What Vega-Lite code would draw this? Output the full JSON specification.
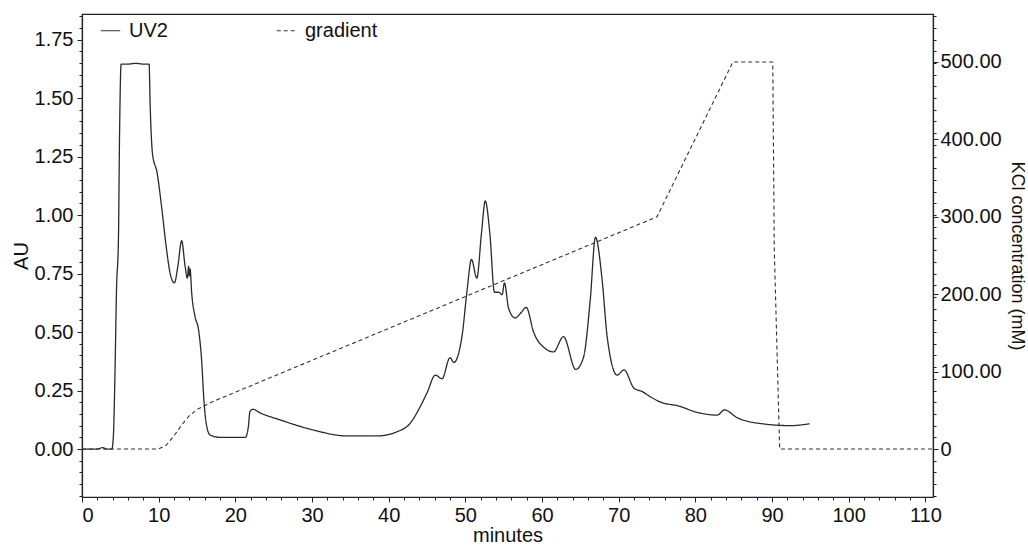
{
  "$schema": "https://vega.github.io/schema/vega-lite/v6.json",
  "width": 851,
  "height": 483,
  "autosize": {"type": "none"},
  "padding": {"left": 82, "top": 14, "right": 95, "bottom": 48},
  "config": {
    "font": "Liberation Sans",
    "view": {"stroke": "#222", "strokeWidth": 1.2},
    "axis": {"grid": false, "domainColor": "#222", "tickColor": "#222", "labelColor": "#111", "titleColor": "#111", "labelFont": "Liberation Sans", "titleFont": "Liberation Sans", "labelFontSize": 20, "titleFontSize": 20, "titleFontWeight": "normal", "domainWidth": 1.2, "tickWidth": 1}
  },
  "datasets": {
    "uv": [
      {"t": 0, "au": 0.0, "series": "UV2"}, {"t": 1, "au": 0.0, "series": "UV2"}, {"t": 2, "au": 0.0, "series": "UV2"},
      {"t": 2.7, "au": 0.006, "series": "UV2"}, {"t": 3.2, "au": 0.0, "series": "UV2"}, {"t": 3.9, "au": 0.0, "series": "UV2"},
      {"t": 4.1, "au": 0.06, "series": "UV2"}, {"t": 4.3, "au": 0.32, "series": "UV2"}, {"t": 4.5, "au": 0.68, "series": "UV2"},
      {"t": 4.75, "au": 0.89, "series": "UV2"}, {"t": 4.9, "au": 1.35, "series": "UV2"}, {"t": 5.1, "au": 1.645, "series": "UV2"},
      {"t": 6, "au": 1.645, "series": "UV2"}, {"t": 7, "au": 1.648, "series": "UV2"}, {"t": 8, "au": 1.645, "series": "UV2"},
      {"t": 8.75, "au": 1.645, "series": "UV2"}, {"t": 8.9, "au": 1.46, "series": "UV2"}, {"t": 9.2, "au": 1.26, "series": "UV2"},
      {"t": 9.8, "au": 1.18, "series": "UV2"}, {"t": 10.4, "au": 1.03, "series": "UV2"}, {"t": 11.0, "au": 0.86, "series": "UV2"},
      {"t": 11.5, "au": 0.75, "series": "UV2"}, {"t": 12.05, "au": 0.71, "series": "UV2"}, {"t": 12.5, "au": 0.78, "series": "UV2"},
      {"t": 13.0, "au": 0.89, "series": "UV2"}, {"t": 13.45, "au": 0.78, "series": "UV2"}, {"t": 13.75, "au": 0.73, "series": "UV2"},
      {"t": 13.9, "au": 0.78, "series": "UV2"}, {"t": 14.0, "au": 0.74, "series": "UV2"}, {"t": 14.1, "au": 0.77, "series": "UV2"},
      {"t": 14.3, "au": 0.67, "series": "UV2"}, {"t": 14.75, "au": 0.565, "series": "UV2"}, {"t": 15.2, "au": 0.51, "series": "UV2"},
      {"t": 15.6, "au": 0.38, "series": "UV2"}, {"t": 15.9, "au": 0.21, "series": "UV2"}, {"t": 16.2, "au": 0.11, "series": "UV2"},
      {"t": 16.7, "au": 0.06, "series": "UV2"}, {"t": 18.0, "au": 0.05, "series": "UV2"}, {"t": 21.3, "au": 0.05, "series": "UV2"},
      {"t": 21.7, "au": 0.095, "series": "UV2"}, {"t": 21.9, "au": 0.16, "series": "UV2"}, {"t": 22.3, "au": 0.17, "series": "UV2"},
      {"t": 23.2, "au": 0.155, "series": "UV2"}, {"t": 25.8, "au": 0.125, "series": "UV2"}, {"t": 30.2, "au": 0.081, "series": "UV2"},
      {"t": 34.55, "au": 0.056, "series": "UV2"}, {"t": 38.5, "au": 0.056, "series": "UV2"}, {"t": 41.1, "au": 0.074, "series": "UV2"},
      {"t": 42.8, "au": 0.11, "series": "UV2"}, {"t": 44.1, "au": 0.18, "series": "UV2"}, {"t": 45.0, "au": 0.24, "series": "UV2"},
      {"t": 46.1, "au": 0.316, "series": "UV2"}, {"t": 46.95, "au": 0.30, "series": "UV2"}, {"t": 48.0, "au": 0.39, "series": "UV2"},
      {"t": 48.5, "au": 0.37, "series": "UV2"}, {"t": 49.6, "au": 0.49, "series": "UV2"}, {"t": 50.2, "au": 0.67, "series": "UV2"},
      {"t": 50.8, "au": 0.81, "series": "UV2"}, {"t": 51.5, "au": 0.73, "series": "UV2"}, {"t": 52.1, "au": 0.92, "series": "UV2"},
      {"t": 52.6, "au": 1.06, "series": "UV2"}, {"t": 53.2, "au": 0.92, "series": "UV2"}, {"t": 53.8, "au": 0.67, "series": "UV2"},
      {"t": 54.35, "au": 0.67, "series": "UV2"}, {"t": 54.8, "au": 0.66, "series": "UV2"}, {"t": 55.1, "au": 0.71, "series": "UV2"},
      {"t": 55.65, "au": 0.60, "series": "UV2"}, {"t": 56.5, "au": 0.56, "series": "UV2"}, {"t": 57.2, "au": 0.58, "series": "UV2"},
      {"t": 57.95, "au": 0.605, "series": "UV2"}, {"t": 58.9, "au": 0.50, "series": "UV2"}, {"t": 60.4, "au": 0.43, "series": "UV2"},
      {"t": 61.5, "au": 0.415, "series": "UV2"}, {"t": 62.8, "au": 0.48, "series": "UV2"}, {"t": 64.4, "au": 0.34, "series": "UV2"},
      {"t": 65.4, "au": 0.39, "series": "UV2"}, {"t": 66.3, "au": 0.64, "series": "UV2"}, {"t": 66.97, "au": 0.905, "series": "UV2"},
      {"t": 67.85, "au": 0.72, "series": "UV2"}, {"t": 68.5, "au": 0.48, "series": "UV2"}, {"t": 69.8, "au": 0.316, "series": "UV2"},
      {"t": 70.7, "au": 0.338, "series": "UV2"}, {"t": 72.0, "au": 0.26, "series": "UV2"}, {"t": 73.1, "au": 0.245, "series": "UV2"},
      {"t": 74.15, "au": 0.223, "series": "UV2"}, {"t": 75.5, "au": 0.20, "series": "UV2"}, {"t": 77.8, "au": 0.184, "series": "UV2"},
      {"t": 80.2, "au": 0.157, "series": "UV2"}, {"t": 82.85, "au": 0.145, "series": "UV2"}, {"t": 83.8, "au": 0.167, "series": "UV2"},
      {"t": 85.5, "au": 0.133, "series": "UV2"}, {"t": 88.95, "au": 0.107, "series": "UV2"}, {"t": 92.4, "au": 0.10, "series": "UV2"},
      {"t": 94.9, "au": 0.108, "series": "UV2"}
    ],
    "grad": [
      {"t": 0, "mm": 0, "series": "gradient"}, {"t": 10, "mm": 0, "series": "gradient"}, {"t": 11, "mm": 5, "series": "gradient"},
      {"t": 12, "mm": 17, "series": "gradient"}, {"t": 13, "mm": 31, "series": "gradient"}, {"t": 14, "mm": 43, "series": "gradient"},
      {"t": 15, "mm": 51, "series": "gradient"}, {"t": 16, "mm": 56, "series": "gradient"}, {"t": 17, "mm": 61, "series": "gradient"},
      {"t": 75, "mm": 300, "series": "gradient"}, {"t": 84.9, "mm": 500, "series": "gradient"}, {"t": 90.1, "mm": 500, "series": "gradient"},
      {"t": 90.3, "mm": 257, "series": "gradient"}, {"t": 91, "mm": 0, "series": "gradient"}, {"t": 111, "mm": 0, "series": "gradient"}
    ]
  },
  "layer": [
    {
      "data": {"name": "uv"},
      "mark": {"type": "line", "color": "#2a2a2a", "strokeWidth": 1.3, "interpolate": "monotone"},
      "encoding": {
        "x": {"field": "t", "type": "quantitative", "scale": {"domain": [0, 111], "nice": false, "zero": false},
              "axis": {"orient": "bottom", "values": [0, 10, 20, 30, 40, 50, 60, 70, 80, 90, 100, 110], "title": "minutes", "tickSize": 5, "labelPadding": 3, "titlePadding": 0}},
        "y": {"field": "au", "type": "quantitative", "scale": {"domain": [-0.205, 1.859], "nice": false, "zero": false},
              "axis": {"orient": "left", "values": [0, 0.25, 0.5, 0.75, 1, 1.25, 1.5, 1.75], "format": ".2f", "title": "AU", "tickSize": 5, "labelPadding": 4, "titlePadding": 3}},
        "strokeDash": {"field": "series", "type": "nominal", "scale": {"domain": ["UV2", "gradient"], "range": [[1, 0], [4, 3]]},
              "legend": {"title": null, "orient": "none", "legendX": 18, "legendY": 6, "direction": "horizontal", "symbolType": "stroke", "symbolSize": 380, "symbolStrokeWidth": 1.2, "symbolStrokeColor": "#333", "labelFontSize": 20, "labelFont": "Liberation Sans", "labelColor": "#111", "labelOffset": 8, "columnPadding": 106, "padding": 0}}
      }
    },
    {
      "data": {"name": "grad"},
      "mark": {"type": "line", "color": "#333", "strokeWidth": 1.1},
      "encoding": {
        "x": {"field": "t", "type": "quantitative", "scale": {"domain": [0, 111], "nice": false, "zero": false},
              "axis": {"orient": "bottom", "values": [2, 4, 6, 8, 12, 14, 16, 18, 22, 24, 26, 28, 32, 34, 36, 38, 42, 44, 46, 48, 52, 54, 56, 58, 62, 64, 66, 68, 72, 74, 76, 78, 82, 84, 86, 88, 92, 94, 96, 98, 102, 104, 106, 108], "labels": false, "domain": false, "title": null, "tickSize": 3}},
        "y": {"field": "mm", "type": "quantitative", "scale": {"domain": [-62, 562], "nice": false, "zero": false},
              "axis": {"orient": "right", "values": [0, 100, 200, 300, 400, 500], "labelExpr": "datum.value == 0 ? '0' : format(datum.value, '.2f')", "title": "KCl concentration (mM)", "titleFontSize": 18, "tickSize": 5, "labelPadding": 2, "titlePadding": 6}},
        "strokeDash": {"field": "series", "type": "nominal"}
      }
    },
    {
      "data": {"name": "uv"},
      "mark": {"type": "line", "strokeOpacity": 0},
      "encoding": {
        "x": {"field": "t", "type": "quantitative", "scale": {"domain": [0, 111], "nice": false, "zero": false}, "axis": null},
        "y": {"field": "au", "type": "quantitative", "scale": {"domain": [-0.205, 1.859], "nice": false, "zero": false},
              "axis": {"orient": "left", "values": [-0.2, -0.15, -0.1, -0.05, 0.05, 0.1, 0.15, 0.2, 0.3, 0.35, 0.4, 0.45, 0.55, 0.6, 0.65, 0.7, 0.8, 0.85, 0.9, 0.95, 1.05, 1.1, 1.15, 1.2, 1.3, 1.35, 1.4, 1.45, 1.55, 1.6, 1.65, 1.7, 1.8, 1.85], "labels": false, "domain": false, "title": null, "tickSize": 3}}
      }
    },
    {
      "data": {"name": "uv"},
      "mark": {"type": "line", "strokeOpacity": 0},
      "encoding": {
        "x": {"field": "t", "type": "quantitative", "scale": {"domain": [0, 111], "nice": false, "zero": false}, "axis": null},
        "y": {"field": "au", "type": "quantitative", "scale": {"domain": [-0.205, 1.859], "nice": false, "zero": false},
              "axis": {"orient": "right", "values": [-0.2, -0.15, -0.1, -0.05, 0.05, 0.1, 0.15, 0.2, 0.25, 0.3, 0.35, 0.4, 0.45, 0.5, 0.55, 0.6, 0.65, 0.7, 0.75, 0.8, 0.85, 0.9, 0.95, 1.0, 1.05, 1.1, 1.15, 1.2, 1.25, 1.3, 1.35, 1.4, 1.45, 1.5, 1.55, 1.6, 1.65, 1.7, 1.75, 1.8, 1.85], "labels": false, "domain": false, "title": null, "tickSize": 3}}
      }
    }
  ],
  "resolve": {"scale": {"y": "independent"}, "axis": {"x": "independent", "y": "independent"}}
}
